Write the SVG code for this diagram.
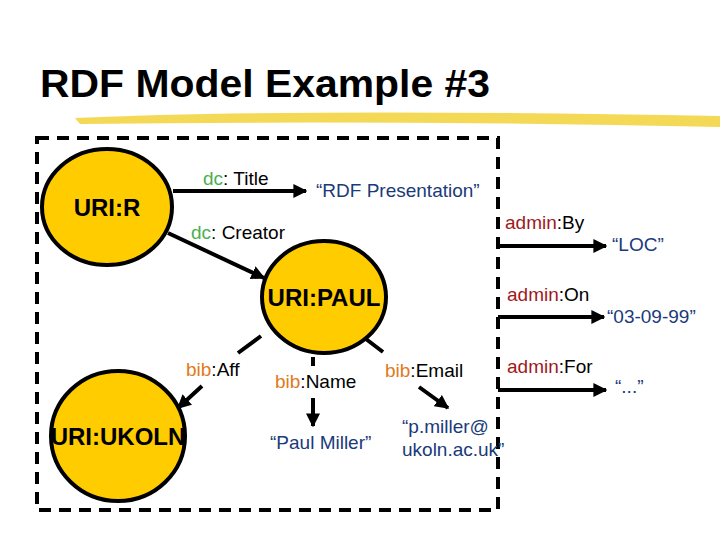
<svg xmlns="http://www.w3.org/2000/svg" width="720" height="540" viewBox="0 0 720 540">
<style>
text{font-family:"Liberation Sans",Arial,sans-serif;font-size:19px}
.n{fill:#FFCC00;stroke:#000;stroke-width:4}
.nl{font-weight:bold;font-size:24px;text-anchor:middle}
.c{stroke:#000;stroke-width:4;fill:none}
.g{fill:#4caf50}.o{fill:#e07a20}.r{fill:#a01820}.lit{fill:#1a3a7a}
</style>
<defs><marker id="a" viewBox="0 0 10 10" refX="9" refY="5" markerWidth="3.5" markerHeight="3.5" orient="auto"><path d="M0,0L10,5L0,10z"/></marker></defs>
<text x="40" y="97" textLength="450" lengthAdjust="spacingAndGlyphs" style="font-size:38px;font-weight:bold">RDF Model Example #3</text>
<path d="M75,118 Q300,108 720,116 L720,127 Q400,120 80,124 Z" fill="#F2D23A" opacity="0.85"/>
<rect x="37" y="138" width="461" height="372" fill="none" stroke="#000" stroke-width="4" stroke-dasharray="12,8"/>
<g id="connectors">
<path class="c" d="M173,191H306" marker-end="url(#a)"/>
<path class="c" d="M168,233L264,278" marker-end="url(#a)"/>
<path class="c" d="M261,336L238,353M202,386L178,408" marker-end="url(#a)"/>
<path class="c" d="M313,357V366M313,398V426" marker-end="url(#a)"/>
<path class="c" d="M362,336L383,352M419,387L448,408" marker-end="url(#a)"/>
<path class="c" d="M498,246H606" marker-end="url(#a)"/>
<path class="c" d="M498,317H604" marker-end="url(#a)"/>
<path class="c" d="M498,390H606" marker-end="url(#a)"/>
</g>
<g id="uri-r"><ellipse class="n" cx="107" cy="207" rx="65" ry="58"/><text class="nl" x="107" y="216">URI:R</text></g>
<g id="uri-paul"><ellipse class="n" cx="324" cy="297" rx="62" ry="56"/><text class="nl" x="324" y="306">URI:PAUL</text></g>
<g id="uri-ukoln"><ellipse class="n" cx="118" cy="436" rx="67" ry="65"/><text class="nl" x="118" y="445">URI:UKOLN</text></g>
<g id="labels">
<text x="203" y="185"><tspan class="g">dc</tspan>: Title</text>
<text x="191" y="239"><tspan class="g">dc</tspan>: Creator</text>
<text x="186" y="376"><tspan class="o">bib</tspan>:Aff</text>
<text x="275" y="388"><tspan class="o">bib</tspan>:Name</text>
<text x="385" y="377"><tspan class="o">bib</tspan>:Email</text>
<text x="505" y="229"><tspan class="r">admin</tspan>:By</text>
<text x="507" y="301"><tspan class="r">admin</tspan>:On</text>
<text x="507" y="373"><tspan class="r">admin</tspan>:For</text>
</g>
<g id="literals">
<text class="lit" x="316" y="197">“RDF Presentation”</text>
<text class="lit" x="612" y="251">“LOC”</text>
<text class="lit" x="607" y="323">“03-09-99”</text>
<text class="lit" x="615" y="393">“...”</text>
<text class="lit" x="270" y="449">“Paul Miller”</text>
<text class="lit" x="402" y="433">“p.miller@</text>
<text class="lit" x="402" y="456">ukoln.ac.uk”</text>
</g>
</svg>
